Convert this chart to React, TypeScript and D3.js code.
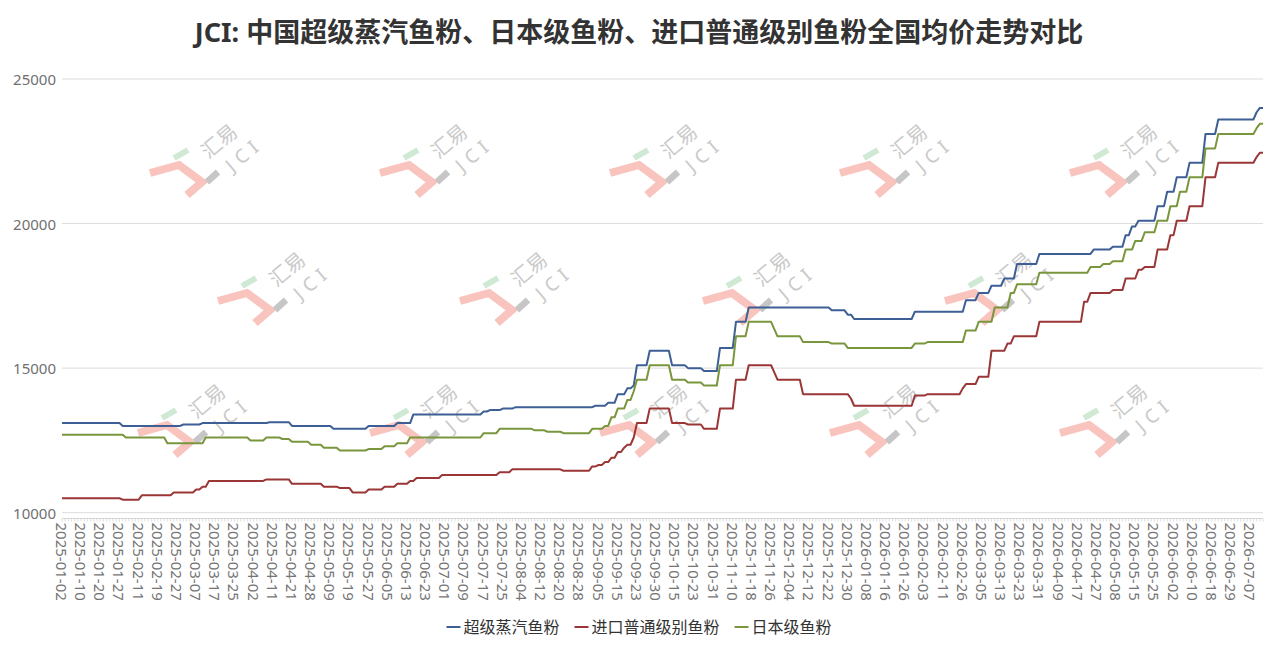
import React from 'react';
import * as d3 from 'd3';

// ---------------- data ----------------
const chartTitle = 'JCI: 中国超级蒸汽鱼粉、日本级鱼粉、进口普通级别鱼粉全国均价走势对比';

// number of daily categories (Chinese working days 2025-01-02 .. 2026-07-13)
const pointCount = 377;

// every 6th category is labelled
const tickLabels = [
  '2025-01-02', '2025-01-10', '2025-01-20', '2025-01-27', '2025-02-11', '2025-02-19', '2025-02-27',
  '2025-03-07', '2025-03-17', '2025-03-25', '2025-04-02', '2025-04-11', '2025-04-21', '2025-04-28',
  '2025-05-09', '2025-05-19', '2025-05-27', '2025-06-05', '2025-06-13', '2025-06-23', '2025-07-01',
  '2025-07-09', '2025-07-17', '2025-07-25', '2025-08-04', '2025-08-12', '2025-08-20', '2025-08-28',
  '2025-09-05', '2025-09-15', '2025-09-23', '2025-09-30', '2025-10-15', '2025-10-23', '2025-10-31',
  '2025-11-10', '2025-11-18', '2025-11-26', '2025-12-04', '2025-12-12', '2025-12-22', '2025-12-30',
  '2026-01-08', '2026-01-16', '2026-01-26', '2026-02-03', '2026-02-11', '2026-02-26', '2026-03-05',
  '2026-03-13', '2026-03-23', '2026-03-31', '2026-04-09', '2026-04-17', '2026-04-27', '2026-05-08',
  '2026-05-15', '2026-05-25', '2026-06-02', '2026-06-10', '2026-06-18', '2026-06-29', '2026-07-07',
];
const labelEvery = 6;

const yTicks = [10000, 15000, 20000, 25000];

const seriesNames = ['超级蒸汽鱼粉', '进口普通级别鱼粉', '日本级鱼粉'];
const seriesColors = ['#3d5f95', '#9b3636', '#7a963c'];

// price changes: [category index where new price starts, price]
const superSteamChanges: [number, number][] = [
  [0, 13100], [19, 13000], [38, 13050], [44, 13100], [65, 13130], [72, 13000], [85, 12900],
  [96, 13000], [105, 13100], [110, 13400], [132, 13500], [134, 13550], [138, 13600], [142, 13650],
  [167, 13700], [171, 13800], [174, 14100], [177, 14300], [179, 14400], [180, 15100], [184, 15600],
  [191, 15100], [196, 15000], [201, 14900], [206, 15700], [211, 16600], [215, 17100], [241, 17000],
  [246, 16850], [248, 16700], [267, 16950], [283, 17350], [287, 17600], [291, 17850], [295, 18100],
  [299, 18600], [306, 18950], [323, 19100], [329, 19200], [333, 19600], [335, 19900], [337, 20100],
  [343, 20600], [346, 21100], [349, 21600], [353, 22100], [358, 23100], [362, 23600], [374, 23850],
  [375, 24000],
];

const importChanges: [number, number][] = [
  [0, 10500], [19, 10450], [25, 10600], [35, 10700], [42, 10800], [44, 10900], [46, 11100],
  [64, 11150], [72, 11000], [82, 10900], [87, 10850], [91, 10700], [96, 10800], [101, 10900],
  [105, 11000], [109, 11100], [111, 11200], [119, 11300], [137, 11400], [141, 11500], [157, 11450],
  [166, 11600], [168, 11650], [170, 11750], [172, 11900], [174, 12100], [176, 12250], [177, 12350],
  [179, 12600], [180, 13100], [184, 13600], [191, 13100], [196, 13050], [201, 12900], [206, 13600],
  [211, 14600], [215, 15100], [223, 14850], [224, 14600], [232, 14100], [247, 13950], [248, 13700],
  [267, 14050], [271, 14100], [282, 14300], [283, 14450], [287, 14700], [291, 15600], [296, 15850],
  [298, 16100], [306, 16600], [320, 17300], [322, 17600], [329, 17700], [333, 18100], [337, 18400],
  [339, 18500], [343, 19100], [347, 19600], [349, 20100], [353, 20600], [358, 21600], [362, 22100],
  [374, 22300], [375, 22450],
];

const japanChanges: [number, number][] = [
  [0, 12700], [20, 12600], [33, 12400], [45, 12600], [59, 12500], [64, 12600], [69, 12550],
  [72, 12450], [78, 12350], [82, 12250], [87, 12150], [96, 12200], [101, 12300], [105, 12400],
  [109, 12600], [132, 12750], [137, 12900], [148, 12850], [152, 12800], [157, 12750], [166, 12900],
  [170, 13000], [172, 13300], [174, 13600], [177, 13900], [179, 14200], [180, 14600], [184, 15100],
  [191, 14600], [196, 14500], [201, 14400], [206, 15100], [211, 16100], [215, 16600], [223, 16350],
  [224, 16100], [232, 15900], [241, 15850], [246, 15700], [267, 15850], [271, 15900], [283, 16300],
  [287, 16600], [292, 17100], [297, 17600], [299, 17900], [306, 18300], [322, 18500], [326, 18600],
  [329, 18700], [333, 19100], [336, 19400], [339, 19700], [343, 20100], [347, 20600], [350, 21100],
  [353, 21600], [358, 22600], [362, 23100], [374, 23300], [375, 23450],
];

// ---------------- layout ----------------
const W = 1278;
const H = 652;
const plotLeft = 62;
const plotRight = 1263;
const plotTop = 79;
const plotBottom = 512.7;
const axisY = 518.5;
const font = "'Noto Sans', 'Noto Sans CJK SC', sans-serif";

const watermarkAnchors: [number, number][] = [
  [150, 173], [380, 173], [610, 173], [840, 173], [1070, 173],
  [218, 301], [460, 301], [703, 301], [945, 301],
  [138, 433], [370, 433], [600, 433], [830, 433], [1060, 433],
];

function holdPrices(changes: [number, number][]): number[] {
  const out: number[] = [];
  let j = 0;
  for (let i = 0; i < pointCount; i++) {
    while (j + 1 < changes.length && changes[j + 1][0] <= i) j++;
    out.push(changes[j][1]);
  }
  return out;
}

function Watermark({ x, y }: { x: number; y: number }) {
  return (
    <g transform={`translate(${x},${y})`}>
      <polyline points="0,0 29,-8 52,9 37,22" fill="none" stroke="#f9c3be" strokeWidth={8} strokeLinejoin="miter" />
      <line x1={24} y1={-15} x2={38} y2={-23} stroke="#cfe9d4" strokeWidth={6} />
      <line x1={57} y1={9} x2={68} y2={-1} stroke="#c6c6c6" strokeWidth={6.5} />
      <text transform="translate(69,-32) rotate(-40)" fontSize={20} fill="#cacaca" textAnchor="middle" dominantBaseline="central" fontFamily={font}>汇易</text>
      <text transform="translate(94,-19) rotate(-40)" fontSize={19} fill="#cacaca" textAnchor="middle" dominantBaseline="central" letterSpacing={6} fontFamily={font}>JCI</text>
    </g>
  );
}

export default function App() {
  const x = d3.scaleLinear().domain([0, pointCount - 1]).range([plotLeft, plotRight]);
  const y = d3.scaleLinear().domain([10000, 25000]).range([plotBottom, plotTop]);

  const series = [superSteamChanges, importChanges, japanChanges].map(holdPrices);
  const line = d3.line<number>().x((_, i) => x(i)).y((v) => y(v));

  const idx = d3.range(pointCount);

  // legend layout
  const legendFont = 16;
  const iconW = 14;
  const iconGap = 3;
  const itemGap = 15;
  const itemWidths = seriesNames.map((n) => iconW + iconGap + n.length * legendFont);
  const totalW = d3.sum(itemWidths) + itemGap * (seriesNames.length - 1);
  let cursor = W / 2 - totalW / 2;
  const legendItems = seriesNames.map((n, i) => {
    const start = cursor;
    cursor += itemWidths[i] + itemGap;
    return { name: n, start, color: seriesColors[i] };
  });
  const legendY = 627;

  return (
    <svg width={W} height={H} style={{ position: 'absolute', left: 0, top: 0, background: '#fff' }} fontFamily={font}>
      <rect x={0} y={0} width={W} height={H} fill="#fff" />
      <text x={W / 2} y={42} textAnchor="middle" fontSize={27} fontWeight="bold" fill="#333">{chartTitle}</text>

      {yTicks.map((t) => (
        <g key={t}>
          <line x1={plotLeft} x2={plotRight} y1={y(t)} y2={y(t)} stroke="#dcdcdc" strokeWidth={1} />
          <text x={56} y={y(t)} textAnchor="end" dominantBaseline="central" fontSize={15} fill="#707070">{t}</text>
        </g>
      ))}

      <line x1={plotLeft} x2={plotRight} y1={axisY} y2={axisY} stroke="#d6d6d6" strokeWidth={1} />
      {idx.map((i) => (
        <line key={i} x1={x(i)} x2={x(i)} y1={axisY} y2={axisY + 3} stroke="#d6d6d6" strokeWidth={0.8} />
      ))}
      {tickLabels.map((lab, k) => {
        const xi = x(k * labelEvery);
        return (
          <text key={lab} transform={`translate(${xi},${axisY + 4}) rotate(90)`} textAnchor="start" dominantBaseline="central" fontSize={15} fill="#757575">{lab}</text>
        );
      })}

      {watermarkAnchors.map(([wx, wy], i) => (
        <Watermark key={i} x={wx} y={wy} />
      ))}

      {series.map((s, i) => (
        <path key={i} d={line(s) || ''} fill="none" stroke={seriesColors[i]} strokeWidth={2} strokeLinejoin="round" />
      ))}

      {legendItems.map((it) => (
        <g key={it.name}>
          <line x1={it.start} x2={it.start + iconW} y1={legendY} y2={legendY} stroke={it.color} strokeWidth={2} />
          <text x={it.start + iconW + iconGap} y={legendY} dominantBaseline="central" fontSize={legendFont} fill="#333">{it.name}</text>
        </g>
      ))}
    </svg>
  );
}
